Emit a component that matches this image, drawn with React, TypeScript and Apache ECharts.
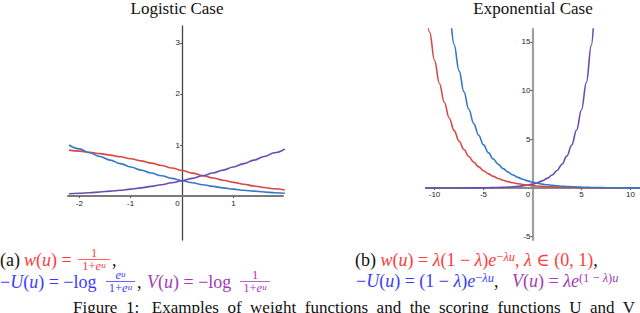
import React, { useEffect, useRef } from "react";
import * as echarts from "echarts";

// ---------- data ----------
const leftU = [-2.2, -2.0, -1.8, -1.6, -1.4, -1.2, -1.0, -0.8, -0.6, -0.4, -0.2, 0, 0.2, 0.4, 0.6, 0.8, 1.0, 1.2, 1.4, 1.6, 1.8, 2.0];
const leftW = [0.900, 0.881, 0.858, 0.832, 0.802, 0.769, 0.731, 0.690, 0.646, 0.599, 0.550, 0.500, 0.450, 0.401, 0.354, 0.310, 0.269, 0.231, 0.198, 0.168, 0.142, 0.119];
const leftNegU = [1.001, 0.924, 0.848, 0.775, 0.704, 0.636, 0.570, 0.509, 0.451, 0.397, 0.347, 0.301, 0.260, 0.223, 0.190, 0.161, 0.136, 0.114, 0.096, 0.080, 0.066, 0.055];
const leftV = [0.046, 0.055, 0.066, 0.080, 0.096, 0.114, 0.136, 0.161, 0.190, 0.223, 0.260, 0.301, 0.347, 0.397, 0.451, 0.509, 0.570, 0.636, 0.704, 0.775, 0.848, 0.924];

const rightU = [-11, -10.5, -10, -9.5, -9, -8.5, -8, -7.5, -7, -6.5, -6, -5.5, -5, -4.5, -4, -3.5, -3, -2.5, -2, -1.5, -1, -0.5, 0, 0.5, 1, 1.5, 2, 2.5, 3, 3.5, 4, 4.5, 5, 5.5, 6, 6.5, 7, 7.5, 8, 8.5, 9, 9.5, 10, 10.5, 11];
const rightW = [19.55, 16.0, 13.1, 10.73, 8.78, 7.19, 5.89, 4.82, 3.95, 3.23, 2.65, 2.17, 1.77, 1.45, 1.19, 0.97, 0.8, 0.65, 0.53, 0.44, 0.36, 0.29, 0.24, 0.2, 0.16, 0.13, 0.11, 0.09, 0.072, 0.059, 0.048, 0.04, 0.032, 0.027, 0.022, 0.018, 0.015, 0.012, 0.01, 0.008, 0.007, 0.005, 0.004, 0.004, 0.003];
const rightNegU = [null, null, null, 26.82, 21.96, 17.98, 14.72, 12.05, 9.87, 8.08, 6.61, 5.42, 4.43, 3.63, 2.97, 2.43, 1.99, 1.63, 1.34, 1.09, 0.9, 0.73, 0.6, 0.49, 0.4, 0.33, 0.27, 0.22, 0.18, 0.15, 0.12, 0.1, 0.081, 0.066, 0.054, 0.045, 0.036, 0.03, 0.024, 0.02, 0.016, 0.013, 0.011, 0.009, 0.007];
const rightV = [0.0005, 0.0007, 0.001, 0.0013, 0.0018, 0.0024, 0.0033, 0.0044, 0.006, 0.0081, 0.0109, 0.0148, 0.0199, 0.0269, 0.0363, 0.049, 0.0661, 0.0893, 0.1205, 0.1626, 0.2195, 0.2963, 0.4, 0.54, 0.729, 0.984, 1.328, 1.793, 2.42, 3.266, 4.409, 5.952, 8.034, 10.845, 14.639, 19.761, 26.67, null, null, null, null, null, null, null, null];

const leftXLabels = [-2, -1, 0, 1];
const leftYLabels = [1, 2, 3];
const rightXLabels = [-10, -5, 0, 5, 10];
const rightYLabels = [-5, 5, 10, 15];

// axis ranges
const L_XMIN = -2.22, L_XMAX = 1.965, L_YMIN = -0.86, L_YMAX = 3.33;
const R_XMIN = -10.87, R_XMAX = 10.97, R_YMIN = -5.34, R_YMAX = 16.32;

// ---------- styles ----------
const RED = "#d64a45";
const BLUE = "#3777c4";
const PURPLE = "#6b4cb0";
const TR = "#ff3b3b";
const TB = "#3b3bff";
const TP = "#a63ab5";
const TK = "#111111";
const SERIF = '"Liberation Serif", "DejaVu Serif", serif';
const SANS = '"Liberation Sans", Arial, sans-serif';

const GL = { left: 68, top: 26, width: 215, height: 214 };
const GR = { left: 426, top: 29, width: 214, height: 211 };

function richFor() {
  const out: any = {};
  const cols: any = { r: TR, b: TB, p: TP, k: TK };
  Object.keys(cols).forEach((c) => {
    const fill = cols[c];
    out[c + "n"] = { fontSize: 18, fontFamily: SERIF, fill, lineHeight: 20 };
    out[c + "i"] = { fontSize: 18, fontFamily: SERIF, fontStyle: "italic", fill, lineHeight: 20 };
    out[c + "s"] = { fontSize: 12.5, fontFamily: SERIF, fill, verticalAlign: "top" };
    out[c + "si"] = { fontSize: 12.5, fontFamily: SERIF, fontStyle: "italic", fill, verticalAlign: "top" };
    out[c + "fn"] = { fontSize: 12.5, fontFamily: SERIF, fill, lineHeight: 11 };
    out[c + "fi"] = { fontSize: 12.5, fontFamily: SERIF, fontStyle: "italic", fill, lineHeight: 11 };
    out[c + "fsi"] = { fontSize: 9, fontFamily: SERIF, fontStyle: "italic", fill, verticalAlign: "top" };
  });
  return out;
}
const RICH = richFor();

function txt(x: number, y: number, text: string, align = "left") {
  return {
    type: "text",
    x,
    y,
    style: {
      text,
      rich: RICH,
      font: "18px " + SERIF,
      fill: TK,
      align,
      verticalAlign: "middle",
      textAlign: align,
      textVerticalAlign: "middle",
    },
  };
}

function frac(cx: number, barY: number, x1: number, x2: number, num: string, den: string, color: string) {
  return [
    txt(cx, barY - 6.5, num, "center"),
    txt(cx, barY + 6.5, den, "center"),
    {
      type: "line",
      shape: { x1, y1: barY, x2, y2: barY },
      style: { stroke: color, lineWidth: 0.8 },
    },
  ];
}

function pairs(xs: number[], ys: (number | null)[]) {
  return xs.map((x, i) => [x, ys[i]]).filter((p) => p[1] !== null);
}

function axisLabelCfg(values: number[]) {
  return {
    customValues: values,
    fontSize: 8,
    fontFamily: SANS,
    color: "#222",
    margin: 3,
    formatter: (v: number) => (v === 0 ? "{z|0}" : String(v)),
    rich: { z: { fontSize: 8, fontFamily: SANS, color: "#222", padding: [0, 9, 0, 0] } },
  };
}

export default function App() {
  const ref = useRef<HTMLDivElement>(null);
  useEffect(() => {
    if (!ref.current) return;
    const chart = echarts.init(ref.current, undefined, { renderer: "svg" });
    const lineSeries = (xi: number, data: any[], color: string) => ({
      type: "line",
      xAxisIndex: xi,
      yAxisIndex: xi,
      data,
      showSymbol: false,
      smooth: 0.4,
      smoothMonotone: "x",
      clip: true,
      lineStyle: { color, width: 1.6 },
      itemStyle: { color },
      z: 3,
    });
    // place axes through the origin
    const lxOff = -((0 - L_YMIN) / (L_YMAX - L_YMIN)) * GL.height;
    const lyOff = -((0 - L_XMIN) / (L_XMAX - L_XMIN)) * GL.width;
    const rxOff = -((0 - R_YMIN) / (R_YMAX - R_YMIN)) * GR.height;
    const ryOff = -((0 - R_XMIN) / (R_XMAX - R_XMIN)) * GR.width;
    const option: any = {
      animation: false,
      grid: [GL, GR],
      xAxis: [
        {
          type: "value",
          gridIndex: 0,
          min: L_XMIN,
          max: L_XMAX,
          position: "bottom",
          offset: lxOff,
          axisLine: { onZero: false, lineStyle: { color: "#7a7a7a", width: 2 } },
          axisTick: { show: true, customValues: [-2, -1, 1], length: 2, lineStyle: { color: "#555" } },
          axisLabel: axisLabelCfg(leftXLabels),
          splitLine: { show: false },
        },
        {
          type: "value",
          gridIndex: 1,
          min: R_XMIN,
          max: R_XMAX,
          position: "bottom",
          offset: rxOff,
          axisLine: { onZero: false, lineStyle: { color: "#8a8a8a", width: 2 } },
          axisTick: { show: true, customValues: [-10, -5, 5, 10], length: 2, lineStyle: { color: "#555" } },
          axisLabel: axisLabelCfg(rightXLabels),
          splitLine: { show: false },
        },
      ],
      yAxis: [
        {
          type: "value",
          gridIndex: 0,
          min: L_YMIN,
          max: L_YMAX,
          position: "left",
          offset: lyOff,
          axisLine: { show: true, onZero: false, lineStyle: { color: "#444", width: 1.3 } },
          axisTick: { show: true, customValues: leftYLabels, length: 2, lineStyle: { color: "#555" } },
          axisLabel: { customValues: leftYLabels, fontSize: 8, fontFamily: SANS, color: "#222", margin: 2 },
          splitLine: { show: false },
        },
        {
          type: "value",
          gridIndex: 1,
          min: R_YMIN,
          max: R_YMAX,
          position: "left",
          offset: ryOff,
          axisLine: { show: true, onZero: false, lineStyle: { color: "#a0a0a0", width: 2.2 } },
          axisTick: { show: true, customValues: rightYLabels, length: 2, lineStyle: { color: "#555" } },
          axisLabel: { customValues: rightYLabels, fontSize: 8, fontFamily: SANS, color: "#222", margin: 2 },
          splitLine: { show: false },
        },
      ],
      series: [
        lineSeries(0, pairs(leftU, leftW), RED),
        lineSeries(0, pairs(leftU, leftNegU), BLUE),
        lineSeries(0, pairs(leftU, leftV), PURPLE),
        lineSeries(1, pairs(rightU, rightV), PURPLE),
        lineSeries(1, pairs(rightU, rightW), RED),
        lineSeries(1, pairs(rightU, rightNegU), BLUE),
      ],
      graphic: [
        {
          type: "text",
          x: 177,
          y: 8,
          style: { text: "Logistic Case", font: "17px " + SERIF, fill: "#111", align: "center", verticalAlign: "middle", textAlign: "center", textVerticalAlign: "middle" },
        },
        {
          type: "text",
          x: 533,
          y: 8,
          style: { text: "Exponential Case", font: "17px " + SERIF, fill: "#111", align: "center", verticalAlign: "middle", textAlign: "center", textVerticalAlign: "middle" },
        },
        // caption (a)
        txt(0, 260, "{kn|(a)}"),
        txt(24, 260, "{ri|w}{rn|(}{ri|u}{rn|) =}"),
        ...frac(94, 259.5, 78, 110, "{rfn|1}", "{rfn|1+}{rfi|e}{rfsi|u}", TR),
        txt(112, 260, "{kn|,}"),
        txt(0, 282, "{bn|−}{bi|U}{bn|(}{bi|u}{bn|) = −log}"),
        ...frac(120.5, 281.5, 106, 135, "{bfi|e}{bfsi|u}", "{bfn|1+}{bfi|e}{bfsi|u}", TB),
        txt(137, 282, "{kn|,}"),
        txt(147, 282, "{pi|V}{pn|(}{pi|u}{pn|) = −log}"),
        ...frac(255, 281.5, 240, 270, "{pfn|1}", "{pfn|1+}{pfi|e}{pfsi|u}", TP),
        // caption (b)
        txt(355, 260, "{kn|(b)} {ri|w}{rn|(}{ri|u}{rn|) = }{ri|λ}{rn|(1 − }{ri|λ}{rn|)}{ri|e}{rs|−}{rsi|λu}{rn|, }{ri|λ}{rn| ∈ (0, 1)}{kn|,}"),
        txt(356, 281, "{bn|−}{bi|U}{bn|(}{bi|u}{bn|) = (1 − }{bi|λ}{bn|)}{bi|e}{bs|−}{bsi|λu}{kn|,}"),
        txt(512, 281, "{pi|V}{pn|(}{pi|u}{pn|) = }{pi|λe}{ps|(1 − }{psi|λ}{ps|)}{psi|u}"),
        // figure caption (cut at bottom)
        {
          type: "text",
          x: 73,
          y: 299,
          style: {
            text: "Figure  1:   Examples  of  weight  functions  and  the  scoring  functions  U  and  V",
            font: "17px " + SERIF,
            fill: "#111",
            align: "left",
            verticalAlign: "top",
            textAlign: "left",
            textVerticalAlign: "top",
          },
        },
      ],
    };
    chart.setOption(option);
    return () => chart.dispose();
  }, []);
  return (
    <div
      ref={ref}
      style={{ position: "absolute", left: 0, top: 0, width: 640, height: 313, background: "#fff" }}
    />
  );
}
